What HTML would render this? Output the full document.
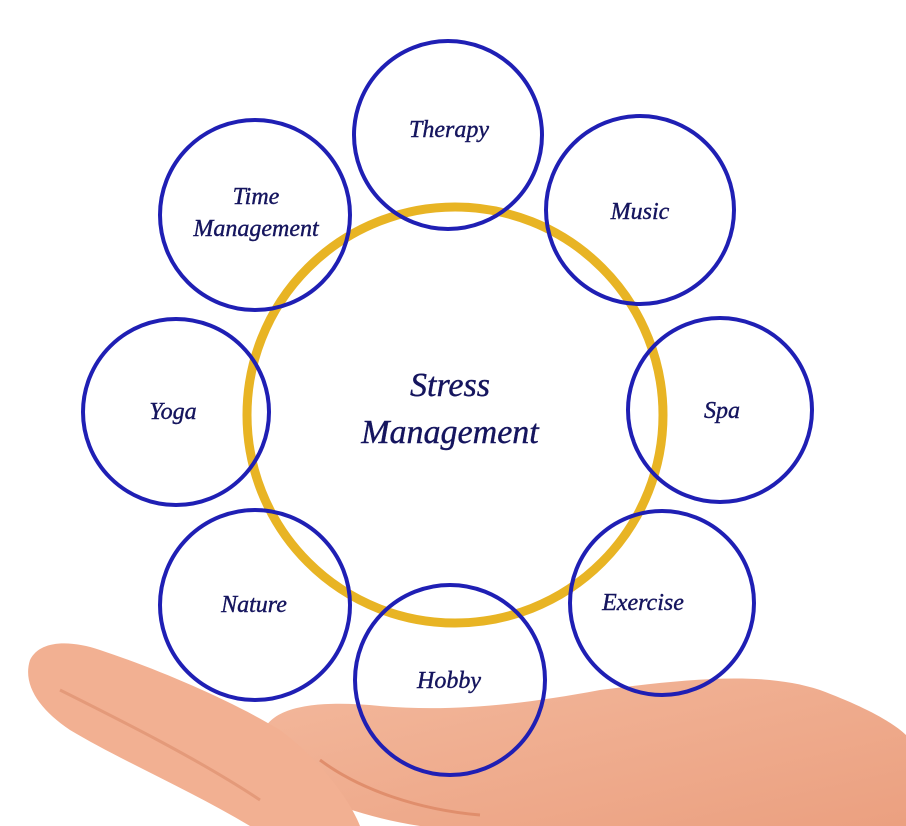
<!DOCTYPE html>
<html><head><meta charset="utf-8"><style>
html,body{margin:0;padding:0;background:#fff;width:906px;height:826px;overflow:hidden}
text{font-family:"Liberation Serif",serif;font-style:italic;fill:#15155e;stroke:#15155e;stroke-width:0.4}
</style></head><body>
<svg width="906" height="826" viewBox="0 0 906 826" xmlns="http://www.w3.org/2000/svg">
<defs>
<linearGradient id="sk" x1="0" y1="0" x2="1" y2="1">
<stop offset="0" stop-color="#f3b89c"/><stop offset="1" stop-color="#eba080"/></linearGradient>
</defs>
<path d="M262,735 C270,705 320,700 380,706 C450,712 520,705 600,690 C680,680 760,670 820,690 C860,705 890,720 906,735 L906,826 L420,826 C350,815 290,790 262,760 Z" fill="url(#sk)"/>
<path d="M30,660 C40,640 70,640 100,650 C160,670 230,700 280,730 C320,760 350,800 360,826 L250,826 C190,790 120,760 70,730 C40,710 22,685 30,660 Z" fill="#f2b092"/>
<path d="M60,690 C120,720 200,760 260,800" stroke="#e49a7a" stroke-width="3" fill="none"/>
<path d="M320,760 C360,790 420,810 480,815" stroke="#e08e6c" stroke-width="3" fill="none"/>
<circle cx="455" cy="415" r="208" fill="none" stroke="#e8b424" stroke-width="9"/>
<g fill="none" stroke="#1f1fb4" stroke-width="4">
<circle cx="448" cy="135" r="94"/>
<circle cx="640" cy="210" r="94"/>
<circle cx="720" cy="410" r="92"/>
<circle cx="662" cy="603" r="92"/>
<circle cx="450" cy="680" r="95"/>
<circle cx="255" cy="605" r="95"/>
<circle cx="176" cy="412" r="93"/>
<circle cx="255" cy="215" r="95"/>
</g>
<g font-size="24" text-anchor="middle">
<text x="449" y="137">Therapy</text>
<text x="640" y="219">Music</text>
<text x="722" y="418">Spa</text>
<text x="643" y="610">Exercise</text>
<text x="449" y="688">Hobby</text>
<text x="254" y="612">Nature</text>
<text x="173" y="419">Yoga</text>
<text x="256" y="204">Time</text>
<text x="256" y="236">Management</text>
</g>
<g font-size="34" text-anchor="middle">
<text x="450" y="396">Stress</text>
<text x="450" y="443">Management</text>
</g>
</svg>
</body></html>
